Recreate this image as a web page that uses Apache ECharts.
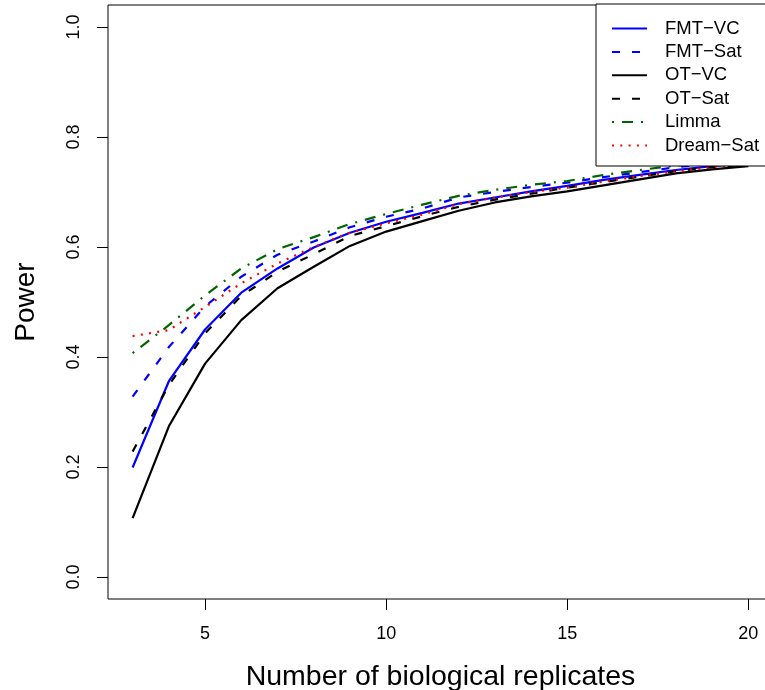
<!DOCTYPE html>
<html>
<head>
<meta charset="utf-8">
<script src="https://cdn.jsdelivr.net/npm/echarts@6/dist/echarts.min.js"></script>
<style>
html,body{margin:0;padding:0;background:#fff;}
#chart{width:765px;height:690px;}
</style>
</head>
<body>
<div id="chart"></div>
<script>
var replicates = [3,4,5,6,7,8,9,10,11,12,13,14,15,16,17,18,19,20];
var fmtVC   = [0.199,0.356,0.450,0.517,0.561,0.599,0.626,0.646,0.662,0.679,0.690,0.701,0.711,0.722,0.731,0.740,0.747,0.753];
var fmtSat  = [0.328,0.418,0.492,0.546,0.586,0.610,0.636,0.655,0.670,0.690,0.700,0.709,0.717,0.727,0.736,0.745,0.752,0.757];
var otVC    = [0.107,0.274,0.388,0.467,0.525,0.564,0.602,0.628,0.647,0.666,0.681,0.692,0.701,0.712,0.723,0.734,0.741,0.747];
var otSat   = [0.228,0.349,0.443,0.511,0.555,0.587,0.620,0.638,0.656,0.673,0.686,0.697,0.708,0.718,0.728,0.738,0.745,0.750];
var limma   = [0.407,0.458,0.512,0.561,0.596,0.618,0.642,0.660,0.677,0.693,0.704,0.713,0.720,0.731,0.740,0.748,0.754,0.760];
var dreamSat= [0.438,0.449,0.491,0.534,0.570,0.600,0.626,0.643,0.659,0.678,0.690,0.700,0.708,0.719,0.729,0.737,0.745,0.752];
var seriesNames = ['FMT\u2212VC','FMT\u2212Sat','OT\u2212VC','OT\u2212Sat','Limma','Dream\u2212Sat'];
var xTicks = [5,10,15,20];
var yTicks = [0,0.2,0.4,0.6,0.8,1.0];

function pairs(arr){ return replicates.map(function(x,i){ return [x, arr[i]]; }); }

var FONT = 'Liberation Sans, Arial, Helvetica, sans-serif';
var chart = echarts.init(document.getElementById('chart'), null, {renderer:'canvas'});

function mk(name, data, color, type){
  return {
    name: name, type: 'line', data: pairs(data), symbol: 'none', showSymbol: false,
    lineStyle: {color: color, width: 2.2, type: type},
    itemStyle: {color: color},
    animation: false, z: 3
  };
}

chart.setOption({
  animation: false,
  backgroundColor: '#fff',
  grid: {left: 108, top: 5, width: 665, height: 594, outerBoundsMode: 'none', containLabel: false,
         show: true, borderColor: '#000', borderWidth: 1, backgroundColor: 'transparent'},
  xAxis: {
    type: 'value', min: 2.32, max: 20.68,
    name: 'Number of biological replicates', nameLocation: 'middle', nameGap: 64,
    nameTextStyle: {fontFamily: FONT, fontSize: 28.5, color: '#000'},
    axisLine: {show: false, onZero: false},
    axisTick: {show: true, customValues: xTicks, length: 11, inside: false, lineStyle: {color: '#000', width: 1}},
    axisLabel: {customValues: xTicks, fontFamily: FONT, fontSize: 18, color: '#000', margin: 26},
    splitLine: {show: false}
  },
  yAxis: {
    type: 'value', min: -0.04, max: 1.04,
    name: 'Power', nameLocation: 'middle', nameGap: 68, nameRotate: 90,
    nameTextStyle: {fontFamily: FONT, fontSize: 28, color: '#000'},
    axisLine: {show: false, onZero: false},
    axisTick: {show: true, customValues: yTicks, length: 11, lineStyle: {color: '#000', width: 1}},
    axisLabel: {customValues: yTicks, rotate: 90, fontFamily: FONT, fontSize: 18, color: '#000', margin: 25,
      formatter: function(v){ return v.toFixed(1); }},
    splitLine: {show: false}
  },
  legend: {
    left: 596, top: 4, orient: 'vertical',
    backgroundColor: '#fff', borderColor: '#000', borderWidth: 1,
    padding: [15, 40, 11, 15],
    itemWidth: 35, itemHeight: 14, itemGap: 4.4,
    itemStyle: {opacity: 0},
    textStyle: {fontFamily: FONT, fontSize: 18.5, color: '#000', padding: [0,0,0,13]},
    data: seriesNames,
    selectedMode: false
  },
  series: [
    mk(seriesNames[0], fmtVC, '#0000ff', 'solid'),
    mk(seriesNames[1], fmtSat, '#0000ff', [8,12]),
    mk(seriesNames[2], otVC, '#000000', 'solid'),
    mk(seriesNames[3], otSat, '#000000', [8,12]),
    mk(seriesNames[4], limma, '#006400', [2,8,11,8]),
    mk(seriesNames[5], dreamSat, '#ff0000', [2,6.3])
  ]
});
</script>
</body>
</html>
